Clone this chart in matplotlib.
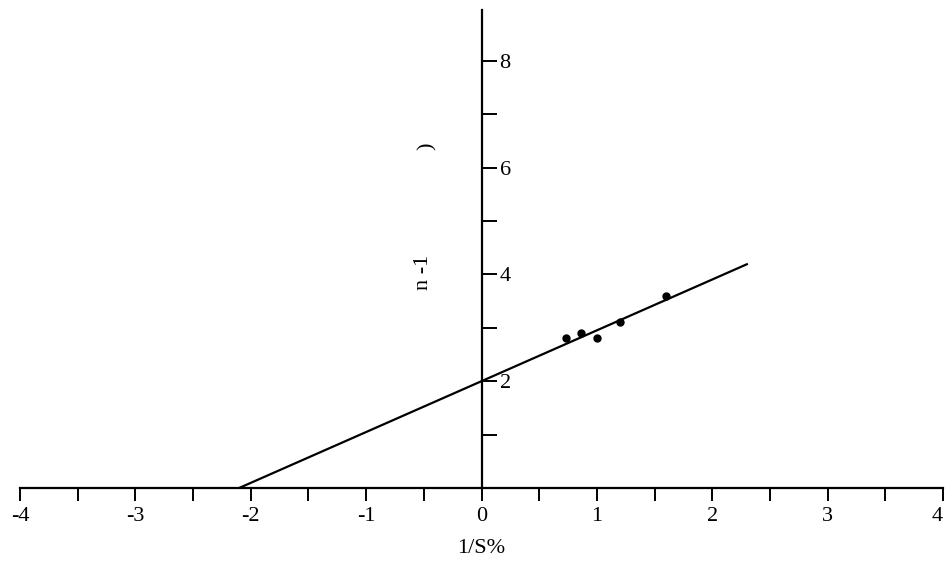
import numpy as np
import matplotlib
matplotlib.use("Agg")
import matplotlib.pyplot as plt
from matplotlib.ticker import FixedLocator

# measured points (1/S%, n^-1)
inv_s = [0.73, 0.86, 1.00, 1.20, 1.60]
inv_n = [2.80, 2.90, 2.80, 3.10, 3.60]

# fitted line
slope = 0.952
intercept = 2.0
fit_range = [-2.1, 2.3]

x_major = [-4, -3, -2, -1, 0, 1, 2, 3, 4]
x_minor = [-3.5, -2.5, -1.5, -0.5, 0.5, 1.5, 2.5, 3.5]
y_major = [2, 4, 6, 8]
y_minor = [1, 3, 5, 7]

plt.rcParams['font.family'] = ['Liberation Serif', 'DejaVu Serif']

fig = plt.figure(figsize=(9.46, 5.70), dpi=100)
ax = fig.add_axes([20 / 946, 82 / 570, 923 / 946, 478 / 570])

fx = np.array(fit_range)
ax.plot(fx, intercept + slope * fx, color='black', lw=1.6)
ax.plot(inv_s, inv_n, 'o', color='black', ms=5)

ax.set_xlim(-4, 4)
ax.set_ylim(0, 8.95)

ax.spines['left'].set_visible(False)
ax.spines['top'].set_visible(False)
ax.spines['right'].set_position(('data', 0))
ax.spines['right'].set_linewidth(1.6)
ax.spines['bottom'].set_linewidth(1.6)

ax.yaxis.tick_right()
ax.xaxis.set_major_locator(FixedLocator(x_major))
ax.xaxis.set_minor_locator(FixedLocator(x_minor))
ax.yaxis.set_major_locator(FixedLocator(y_major))
ax.yaxis.set_minor_locator(FixedLocator(y_minor))
ax.set_xticklabels([str(v) for v in x_major])
ax.set_yticklabels([str(v) for v in y_major])

ax.tick_params(axis='x', which='both', direction='out', length=9, width=1.4,
               labelsize=16, pad=5)
ax.tick_params(axis='y', which='both', direction='out', length=11, width=1.4,
               labelsize=16, pad=2)

# last x label sits against the right edge
ax.get_xticklabels()[-1].set_ha('right')

ax.set_xlabel('1/S%', fontsize=16, labelpad=9)

# y label as it appears in the source (split pieces)
ax.text(-0.50, 4.04, 'n -1', rotation=90, fontsize=16, ha='center', va='center')
ax.text(-0.47, 6.40, ')', rotation=90, fontsize=16, ha='center', va='center')

fig.savefig('out.png', dpi=100)
